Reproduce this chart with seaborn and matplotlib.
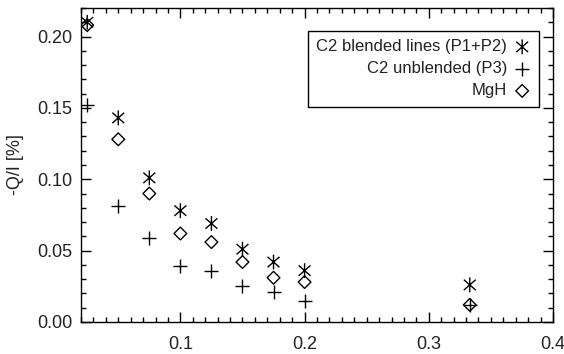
import numpy as np
import pandas as pd
import matplotlib
matplotlib.use("Agg")
import matplotlib.pyplot as plt
from matplotlib.path import Path
from matplotlib.ticker import MultipleLocator, FormatStrFormatter
import seaborn as sns

# values
x_vals = [0.025, 0.05, 0.075, 0.1, 0.125, 0.15, 0.175, 0.2, 0.333]
blended = [0.210, 0.143, 0.101, 0.078, 0.069, 0.051, 0.042, 0.036, 0.026]
unblended = [0.152, 0.081, 0.059, 0.039, 0.036, 0.025, 0.021, 0.015, 0.012]
mgh = [0.208, 0.128, 0.090, 0.062, 0.056, 0.042, 0.031, 0.028, 0.012]
labels = ["C2 blended lines (P1+P2)", "C2 unblended (P3)", "MgH"]

df = pd.DataFrame({"x": x_vals, "blended": blended, "unblended": unblended, "mgh": mgh})

sns.set_style("white")
plt.rcParams["font.family"] = ["Liberation Sans", "DejaVu Sans"]
plt.rcParams.update({
    "xtick.direction": "in", "ytick.direction": "in",
    "xtick.top": True, "ytick.right": True,
    "xtick.bottom": True, "ytick.left": True,
})

# IDL style asterisk: vertical bar + X
star = Path([[0, -1], [0, 1], [-0.8, -0.7], [0.8, 0.7], [-0.8, 0.7], [0.8, -0.7]],
            [Path.MOVETO, Path.LINETO, Path.MOVETO, Path.LINETO, Path.MOVETO, Path.LINETO])

fig = plt.figure(figsize=(5.64, 3.54), dpi=100)
ax = fig.add_axes([81 / 564, 1 - 322 / 354, 472 / 564, 314 / 354])

sns.scatterplot(data=df, x="x", y="blended", marker=star, s=115, facecolor="none",
                edgecolor="k", linewidth=1, ax=ax, label=labels[0])
sns.scatterplot(data=df, x="x", y="unblended", marker="+", s=110, color="k",
                linewidth=1, ax=ax, label=labels[1])
sns.scatterplot(data=df, x="x", y="mgh", marker="D", s=42, facecolor="none",
                edgecolor="k", linewidth=1, ax=ax, label=labels[2])

ax.set_xlim(0.02, 0.4)
ax.set_ylim(0, 0.22)
ax.xaxis.set_major_locator(MultipleLocator(0.1))
ax.xaxis.set_minor_locator(MultipleLocator(0.01))
ax.yaxis.set_major_locator(MultipleLocator(0.05))
ax.yaxis.set_minor_locator(MultipleLocator(0.01))
ax.xaxis.set_major_formatter(FormatStrFormatter("%.1f"))
ax.yaxis.set_major_formatter(FormatStrFormatter("%.2f"))
ax.tick_params(which="major", length=7, width=1, labelsize=13, color="k", labelcolor="#222222")
ax.tick_params(which="minor", length=3.5, width=1, color="k")
ax.tick_params(axis="x", which="major", pad=10)
ax.tick_params(axis="y", which="major", pad=6)
for sp in ax.spines.values():
    sp.set_color("k")
    sp.set_linewidth(1)

ax.set_xlabel("")
ax.set_ylabel("-Q/I [%]", fontsize=13, color="#222222", labelpad=10)

leg = ax.legend(loc="upper right", bbox_to_anchor=(0.970, 0.927), borderaxespad=0,
                markerfirst=False, fancybox=False, framealpha=1, fontsize=12,
                handletextpad=0.4, labelspacing=0.42, borderpad=0.5, handlelength=1.0)
leg.get_frame().set_edgecolor("k")
leg.get_frame().set_linewidth(1)
for t in leg.get_texts():
    t.set_color("#222222")

fig.savefig("out.png", dpi=100)
